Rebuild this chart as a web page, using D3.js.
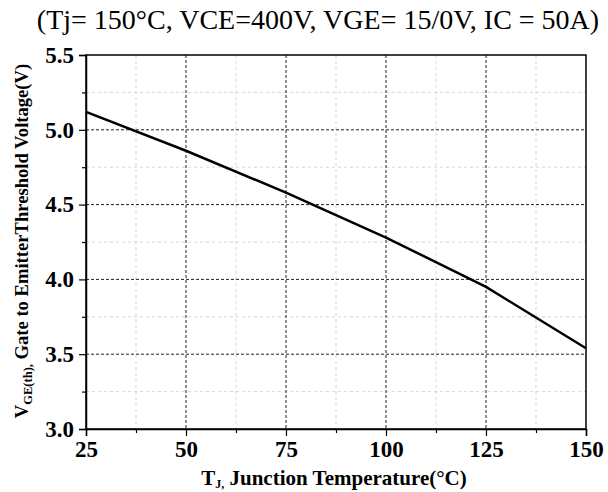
<!DOCTYPE html>
<html><head><meta charset="utf-8">
<script src="https://cdn.jsdelivr.net/npm/d3@7"></script>
<style>body{margin:0;background:#fff}svg{display:block}text{font-family:"Liberation Serif","Times New Roman",serif}</style>
</head><body><svg width="608" height="492"></svg>
<script>
const temps = [25, 50, 75, 100, 125, 150];
const vth = [5.12, 4.86, 4.58, 4.28, 3.95, 3.54];
const xTicks = [25, 50, 75, 100, 125, 150];
const yTicks = [3.0, 3.5, 4.0, 4.5, 5.0, 5.5];
const title = "(Tj= 150°C, VCE=400V, VGE= 15/0V, IC = 50A)";

const svg = d3.select("svg");
const m = {l: 86, r: 586, t: 55, b: 429};
const x = d3.scaleLinear().domain([25, 150]).range([m.l, m.r]);
const y = d3.scaleLinear().domain([3.0, 5.5]).range([m.b, m.t]);

const xMinor = d3.range(37.5, 150, 25);
const yMinor = d3.range(3.25, 5.5, 0.5);

// minor grid
svg.append("g").selectAll("line").data(xMinor).join("line")
  .attr("x1", d => x(d)).attr("x2", d => x(d)).attr("y1", m.t).attr("y2", m.b)
  .attr("stroke", "#ccc").attr("stroke-width", 0.8).attr("stroke-dasharray", "3,3");
svg.append("g").selectAll("line").data(yMinor).join("line")
  .attr("y1", d => y(d)).attr("y2", d => y(d)).attr("x1", m.l).attr("x2", m.r)
  .attr("stroke", "#ccc").attr("stroke-width", 0.8).attr("stroke-dasharray", "3,3");
// major grid
svg.append("g").selectAll("line").data(xTicks.slice(1, -1)).join("line")
  .attr("x1", d => x(d)).attr("x2", d => x(d)).attr("y1", m.t).attr("y2", m.b)
  .attr("stroke", "#222").attr("stroke-width", 1).attr("stroke-dasharray", "3,2");
svg.append("g").selectAll("line").data(yTicks.slice(1, -1)).join("line")
  .attr("y1", d => y(d)).attr("y2", d => y(d)).attr("x1", m.l).attr("x2", m.r)
  .attr("stroke", "#222").attr("stroke-width", 1).attr("stroke-dasharray", "3,2");

// frame
svg.append("rect").attr("x", m.l).attr("y", m.t).attr("width", m.r - m.l).attr("height", m.b - m.t)
  .attr("fill", "none").attr("stroke", "#000").attr("stroke-width", 1.5);

// axes
svg.append("g").attr("transform", `translate(0,${m.b})`)
  .call(d3.axisBottom(x).tickValues(xTicks).tickFormat(d3.format("d")).tickSize(7).tickPadding(5));
svg.append("g").attr("transform", `translate(0,${m.b})`)
  .call(d3.axisBottom(x).tickValues(xMinor).tickFormat("").tickSize(4))
  .call(g => g.select(".domain").remove());
svg.append("g").attr("transform", `translate(${m.l},0)`)
  .call(d3.axisLeft(y).tickValues(yTicks).tickFormat(d3.format(".1f")).tickSize(7).tickPadding(5));
svg.append("g").attr("transform", `translate(${m.l},0)`)
  .call(d3.axisLeft(y).tickValues(yMinor).tickFormat("").tickSize(4))
  .call(g => g.select(".domain").remove());
svg.selectAll(".tick line").attr("stroke", "#000").attr("stroke-width", 1.2);
svg.selectAll(".domain").attr("stroke", "#000").attr("stroke-width", 1.5);
svg.selectAll(".tick text").attr("font-family", "Liberation Serif, serif").attr("font-size", 23)
  .attr("font-weight", "bold").attr("fill", "#000");

// line
svg.append("path").datum(temps.map((t, i) => [t, vth[i]]))
  .attr("d", d3.line().x(d => x(d[0])).y(d => y(d[1])))
  .attr("fill", "none").attr("stroke", "#000").attr("stroke-width", 2.5);

// title
svg.append("text").attr("x", 318).attr("y", 29).attr("text-anchor", "middle")
  .attr("font-size", 28).attr("fill", "#000").text(title);

// x label
const xl = svg.append("text").attr("x", 334).attr("y", 485).attr("text-anchor", "middle")
  .attr("font-size", 21).attr("font-weight", "bold").attr("fill", "#000");
xl.append("tspan").text("T");
xl.append("tspan").attr("font-size", 12).attr("dy", 3).text("J,");
xl.append("tspan").attr("dy", -3).text(" Junction Temperature(°C)");

// y label
const yl = svg.append("text").attr("transform", `translate(28,241) rotate(-90)`)
  .attr("text-anchor", "middle").attr("font-size", 18.6).attr("font-weight", "bold").attr("fill", "#000");
yl.append("tspan").text("V");
yl.append("tspan").attr("font-size", 12.5).attr("dy", 4).text("GE(th),");
yl.append("tspan").attr("dy", -4).text(" Gate to EmitterThreshold Voltage(V)");
</script></body></html>
